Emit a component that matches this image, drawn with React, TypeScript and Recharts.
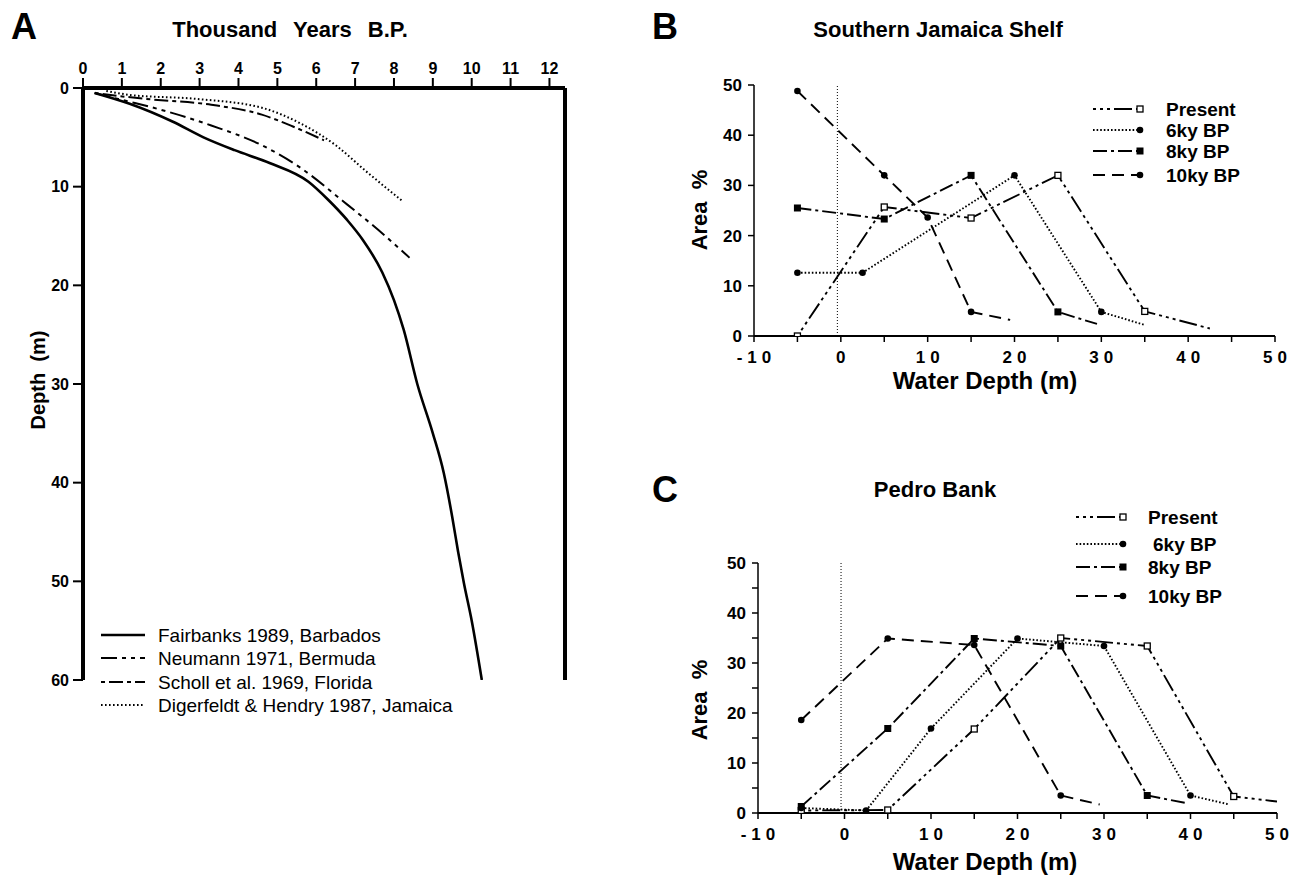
import React from "react";
import { LineChart, Line, XAxis, YAxis, ReferenceLine } from "recharts";

const FONT = "'Liberation Sans', Arial, Helvetica, sans-serif";

// ---- Panel A: sea-level curves (thousand years BP vs depth in m)
const aTicksX = [0, 1, 2, 3, 4, 5, 6, 7, 8, 9, 10, 11, 12];
const aTicksY = [0, 10, 20, 30, 40, 50, 60];
const aNames = [
  "Fairbanks 1989, Barbados",
  "Neumann 1971, Bermuda",
  "Scholl et al. 1969, Florida",
  "Digerfeldt & Hendry 1987, Jamaica",
];
const fairbanks = [
  [0.3, 0.5], [1.2, 1.6], [2.3, 3.4], [3.1, 5.0], [3.9, 6.3], [4.8, 7.6],
  [5.8, 9.5], [6.3, 11.3], [6.8, 13.4], [7.2, 15.4], [7.7, 18.7], [8.0, 21.5],
  [8.25, 24.5], [8.6, 30], [9.0, 35], [9.28, 39], [9.5, 43.5], [9.65, 47],
  [9.8, 50.2], [10.0, 54], [10.26, 60],
];
const neumann = [
  [0.3, 0.5], [1.0, 1.2], [2.0, 2.2], [3.3, 3.8], [4.6, 5.8], [5.6, 8.1],
  [6.7, 11.5], [7.6, 14.4], [8.4, 17.2],
];
const scholl = [
  [0.3, 0.5], [0.9, 0.8], [1.6, 1.1], [3.3, 1.7], [4.6, 2.7], [5.4, 3.9], [6.2, 5.3],
];
const digerfeldt = [
  [0.6, 0.3], [1.2, 0.7], [2.9, 1.1], [4.6, 2.0], [5.6, 3.6], [6.5, 5.8],
  [7.3, 8.5], [8.2, 11.4],
];

// ---- Panels B and C: area % vs water depth
const depthTicks = [-10, -5, 0, 5, 10, 15, 20, 25, 30, 35, 40, 45, 50];
const areaTicksB = [0, 10, 20, 30, 40, 50];
const areaTicksC = [0, 5, 10, 15, 20, 25, 30, 35, 40, 45, 50];
const periods = ["Present", "6ky BP", "8ky BP", "10ky BP"];

const jamaicaPresent = [[-5, 0], [5, 25.7], [15, 23.5], [25, 32], [35, 4.9], [42.5, 1.5]];
const jamaica6ky = [[-5, 12.6], [2.5, 12.6], [20, 32], [30, 4.8], [35, 2.2]];
const jamaica8ky = [[-5, 25.5], [5, 23.3], [15, 32], [25, 4.8], [29.5, 2.4]];
const jamaica10ky = [[-5, 48.8], [5, 32], [10, 23.6], [15, 4.8], [19.5, 3.2]];

const pedroPresent = [[-5, 0.5], [5, 0.6], [15, 16.8], [25, 35], [35, 33.4], [45, 3.3], [50, 2.3]];
const pedro6ky = [[-5, 1.0], [2.5, 0.5], [10, 16.9], [20, 34.9], [30, 33.4], [40, 3.5], [44.5, 1.7]];
const pedro8ky = [[-5, 1.3], [5, 16.9], [15, 34.9], [25, 33.4], [35, 3.5], [39.5, 2.0]];
const pedro10ky = [[-5, 18.6], [5, 34.9], [15, 33.6], [25, 3.5], [29.5, 1.7]];

const toPts = (arr: number[][]) => arr.map(([x, y]) => ({ x, y }));

const aStyles = [
  { dash: undefined, width: 2.6 },
  { dash: "16 5 4 5 4 5", width: 2 },
  { dash: "4 4 14 4", width: 2 },
  { dash: "1.6 2.4", width: 2 },
];
const pStyles = [
  { dash: "3 4 3 4 3 4 18 4", marker: "openSquare" },
  { dash: "1.6 2", marker: "circle" },
  { dash: "14 4 3 4", marker: "square" },
  { dash: "12 7", marker: "circle" },
];

function Marker({ kind, cx, cy }: { kind: string; cx: number; cy: number }) {
  if (kind === "openSquare")
    return <rect x={cx - 3} y={cy - 3} width={6} height={6} fill="#fff" stroke="#000" strokeWidth={1.3} />;
  if (kind === "square")
    return <rect x={cx - 3.5} y={cy - 3.5} width={7} height={7} fill="#000" />;
  return <circle cx={cx} cy={cy} r={3.3} fill="#000" />;
}

const makeDot = (kind: string, last: number) => (props: any) => {
  const { cx, cy, index } = props;
  if (index === last || cx == null || cy == null) return <g key={`d${index}`} />;
  return (
    <g key={`d${index}`}>
      <Marker kind={kind} cx={cx} cy={cy} />
    </g>
  );
};

function Txt({ x, y, size, bold = true, rotate = false, anchor = "middle", spacing, children }: any) {
  const tx = anchor === "middle" ? "-50%" : "0";
  return (
    <div
      style={{
        position: "absolute",
        left: x,
        top: y,
        fontSize: size,
        fontWeight: bold ? "bold" : "normal",
        whiteSpace: "pre",
        lineHeight: 1,
        wordSpacing: spacing,
        transform: `translate(${tx}, -50%)${rotate ? " rotate(-90deg)" : ""}`,
        transformOrigin: "center",
      }}
    >
      {children}
    </div>
  );
}

const SpacedTick = (props: any) => {
  const { x, y, payload } = props;
  const v = payload.value;
  if (v % 10 !== 0) return <g />;
  return (
    <text x={x + 2.5} y={y} dy={13} textAnchor="middle" fontSize={17} fontWeight="bold" letterSpacing={5} fontFamily={FONT} fill="#000">
      {v}
    </text>
  );
};

const AreaTick = (props: any) => {
  const { x, y, payload } = props;
  const v = payload.value;
  if (v % 10 !== 0) return <g />;
  return (
    <text x={x} y={y} dy={6} textAnchor="end" fontSize={17} fontWeight="bold" fontFamily={FONT} fill="#000">
      {v}
    </text>
  );
};

function LegendSample({ dash, width, marker, w = 48 }: any) {
  return (
    <svg width={w + 6} height={10} style={{ display: "block" }}>
      <line x1={0} y1={5} x2={w} y2={5} stroke="#000" strokeWidth={width} strokeDasharray={dash} />
      {marker && <Marker kind={marker} cx={w} cy={5} />}
    </svg>
  );
}

function PanelA() {
  const series = [fairbanks, neumann, scholl, digerfeldt];
  const legendRows = [635, 658, 682, 705];
  return (
    <>
      <div style={{ position: "absolute", left: 0, top: 0 }}>
        <LineChart width={580} height={720} margin={{ top: 58, right: 15, bottom: 40, left: 43 }}>
          <XAxis
            type="number"
            dataKey="x"
            orientation="top"
            domain={[0, 12.4]}
            ticks={aTicksX}
            allowDataOverflow
            height={30}
            tickSize={10}
            tickMargin={4}
            axisLine={{ stroke: "#000", strokeWidth: 4 }}
            tickLine={{ stroke: "#000", strokeWidth: 2 }}
            tick={{ fill: "#000", fontSize: 16, fontWeight: "bold", fontFamily: FONT }}
          />
          <YAxis
            type="number"
            domain={[0, 60]}
            reversed
            ticks={aTicksY}
            allowDataOverflow
            width={40}
            tickSize={10}
            tickMargin={4}
            axisLine={{ stroke: "#000", strokeWidth: 4 }}
            tickLine={{ stroke: "#000", strokeWidth: 2 }}
            tick={{ fill: "#000", fontSize: 16, fontWeight: "bold", fontFamily: FONT }}
          />
          <YAxis
            yAxisId="r"
            orientation="right"
            mirror
            type="number"
            domain={[0, 60]}
            reversed
            ticks={aTicksY}
            allowDataOverflow
            tickSize={10}
            tick={false}
            axisLine={{ stroke: "#000", strokeWidth: 4 }}
            tickLine={{ stroke: "#000", strokeWidth: 2 }}
          />
          {series.map((s, i) => (
            <Line
              key={aNames[i]}
              name={aNames[i]}
              data={toPts(s)}
              dataKey="y"
              type="monotone"
              stroke="#000"
              strokeWidth={aStyles[i].width}
              strokeDasharray={aStyles[i].dash}
              dot={false}
              activeDot={false}
              isAnimationActive={false}
            />
          ))}
        </LineChart>
      </div>
      {aNames.map((n, i) => (
        <div key={n} style={{ position: "absolute", left: 101, top: legendRows[i] - 5 }}>
          <LegendSample dash={aStyles[i].dash} width={aStyles[i].width} w={44} />
        </div>
      ))}
      {aNames.map((n, i) => (
        <Txt key={n} x={158} y={legendRows[i]} size={19} bold={false} anchor="start">
          {n}
        </Txt>
      ))}
      <Txt x={24} y={27} size={36}>A</Txt>
      <Txt x={290} y={30} size={22} spacing={10}>Thousand Years B.P.</Txt>
      <Txt x={38} y={380} size={20} rotate>Depth  (m)</Txt>
    </>
  );
}

function ShelfPanel({ top, margin, data, yTicks, legendRows, legendX, textX }: any) {
  return (
    <>
      <div style={{ position: "absolute", left: 690, top }}>
        <LineChart width={605} height={340} margin={margin}>
          <XAxis
            type="number"
            dataKey="x"
            domain={[-10, 50]}
            ticks={depthTicks}
            allowDataOverflow
            height={30}
            tickSize={6}
            tickMargin={8}
            axisLine={{ stroke: "#000", strokeWidth: 2 }}
            tickLine={{ stroke: "#000", strokeWidth: 1.5 }}
            tick={(p: any) => <SpacedTick {...p} />}
          />
          <YAxis
            type="number"
            domain={[0, 50]}
            ticks={yTicks}
            allowDataOverflow
            width={50}
            tickSize={6}
            tickMargin={6}
            axisLine={{ stroke: "#000", strokeWidth: 1.5 }}
            tickLine={{ stroke: "#000", strokeWidth: 1.5 }}
            tick={(p: any) => <AreaTick {...p} />}
          />
          <ReferenceLine x={-0.4} stroke="#000" strokeWidth={1} strokeDasharray="1 2" />
          {data.map((s: number[][], i: number) => (
            <Line
              key={periods[i]}
              name={periods[i]}
              data={toPts(s)}
              dataKey="y"
              type="linear"
              stroke="#000"
              strokeWidth={1.9}
              strokeDasharray={pStyles[i].dash}
              dot={makeDot(pStyles[i].marker, s.length - 1)}
              activeDot={false}
              isAnimationActive={false}
            />
          ))}
        </LineChart>
      </div>
      {periods.map((p, i) => (
        <div key={p} style={{ position: "absolute", left: legendX, top: legendRows[i] - 5 }}>
          <LegendSample dash={pStyles[i].dash} width={1.8} marker={pStyles[i].marker} w={47} />
        </div>
      ))}
      {periods.map((p, i) => (
        <Txt key={p} x={textX[i]} y={legendRows[i]} size={19} anchor="start">
          {p}
        </Txt>
      ))}
    </>
  );
}

export default function App() {
  return (
    <div
      style={{
        position: "absolute",
        left: 0,
        top: 0,
        width: 1299,
        height: 880,
        background: "#fff",
        fontFamily: FONT,
        color: "#000",
        overflow: "hidden",
      }}
    >
      <PanelA />

      <ShelfPanel
        top={40}
        margin={{ top: 45, right: 20, bottom: 14, left: 14 }}
        data={[jamaicaPresent, jamaica6ky, jamaica8ky, jamaica10ky]}
        yTicks={areaTicksB}
        legendRows={[109, 130, 151, 175]}
        legendX={1093}
        textX={[1166, 1166, 1166, 1166]}
      />
      <Txt x={665} y={27} size={36}>B</Txt>
      <Txt x={938} y={30} size={22}>Southern Jamaica Shelf</Txt>
      <Txt x={700} y={210} size={22} rotate>Area  %</Txt>
      <Txt x={985} y={381} size={24}>Water Depth (m)</Txt>

      <ShelfPanel
        top={520}
        margin={{ top: 43, right: 18, bottom: 17, left: 18 }}
        data={[pedroPresent, pedro6ky, pedro8ky, pedro10ky]}
        yTicks={areaTicksC}
        legendRows={[517, 544, 567, 596]}
        legendX={1076}
        textX={[1148, 1153, 1148, 1148]}
      />
      <Txt x={665} y={490} size={36}>C</Txt>
      <Txt x={935} y={490} size={22}>Pedro Bank</Txt>
      <Txt x={700} y={700} size={22} rotate>Area  %</Txt>
      <Txt x={985} y={862} size={24}>Water Depth (m)</Txt>
    </div>
  );
}
